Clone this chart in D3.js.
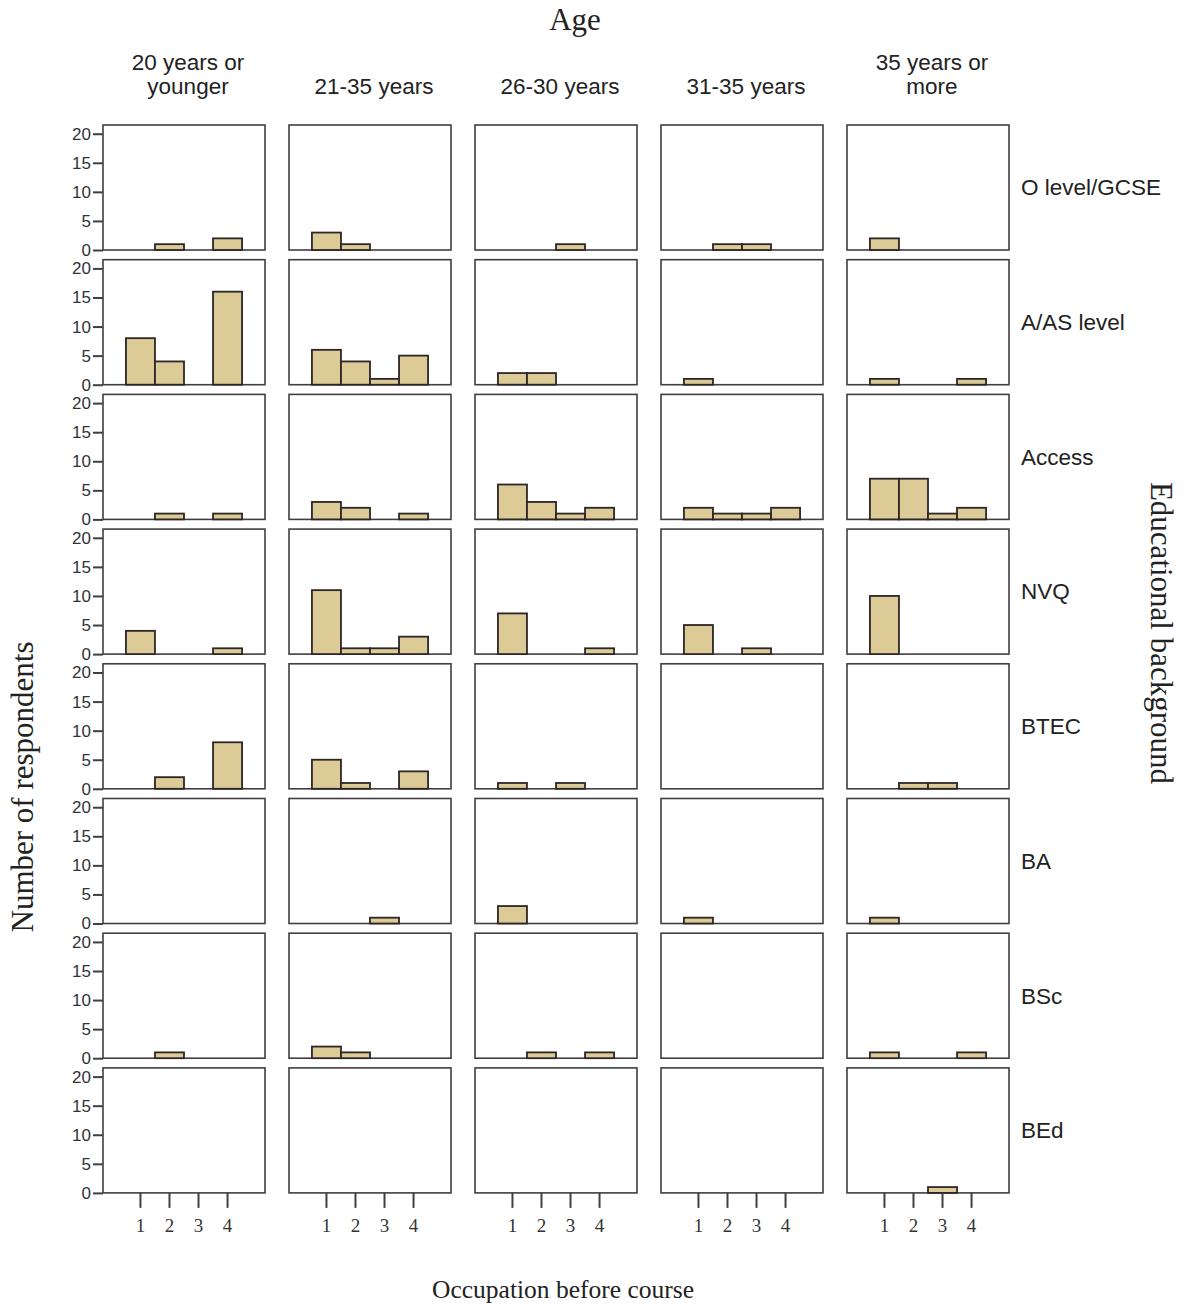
<!DOCTYPE html>
<html>
<head>
<meta charset="utf-8">
<script src="https://cdn.jsdelivr.net/npm/d3@7"></script>
<style>
  body { margin: 0; background: #fff; }
  svg { display: block; }
</style>
</head>
<body>
<svg></svg>
<script>

// categories
const ageGroups = [
    ["20 years or", "younger"],
    ["21-35 years"],
    ["26-30 years"],
    ["31-35 years"],
    ["35 years or", "more"]
]
const occupations = [1, 2, 3, 4]
const yTicks = [0, 5, 10, 15, 20]

// counts per education row, one [occ1..occ4] per age group
const oLevel  = [[0, 1, 0, 2], [3, 1, 0, 0], [0, 0, 1, 0], [0, 1, 1, 0], [2, 0, 0, 0]]
const aLevel  = [[8, 4, 0, 16], [6, 4, 1, 5], [2, 2, 0, 0], [1, 0, 0, 0], [1, 0, 0, 1]]
const access  = [[0, 1, 0, 1], [3, 2, 0, 1], [6, 3, 1, 2], [2, 1, 1, 2], [7, 7, 1, 2]]
const nvq     = [[4, 0, 0, 1], [11, 1, 1, 3], [7, 0, 0, 1], [5, 0, 1, 0], [10, 0, 0, 0]]
const btec    = [[0, 2, 0, 8], [5, 1, 0, 3], [1, 0, 1, 0], [0, 0, 0, 0], [0, 1, 1, 0]]
const ba      = [[0, 0, 0, 0], [0, 0, 1, 0], [3, 0, 0, 0], [1, 0, 0, 0], [1, 0, 0, 0]]
const bsc     = [[0, 1, 0, 0], [2, 1, 0, 0], [0, 1, 0, 1], [0, 0, 0, 0], [1, 0, 0, 1]]
const bed     = [[0, 0, 0, 0], [0, 0, 0, 0], [0, 0, 0, 0], [0, 0, 0, 0], [0, 0, 1, 0]]

const educationRows = [
    { label: "O level/GCSE", counts: oLevel },
    { label: "A/AS level", counts: aLevel },
    { label: "Access", counts: access },
    { label: "NVQ", counts: nvq },
    { label: "BTEC", counts: btec },
    { label: "BA", counts: ba },
    { label: "BSc", counts: bsc },
    { label: "BEd", counts: bed }
]

const sans = "Liberation Sans, Arial, sans-serif"
const serif = "Liberation Serif, Times New Roman, serif"
const frameColor = "#433c42"
const barFill = "#dccb96"

const panelLeft = 103
const panelTop = 125
const panelW = 162
const panelH = 125
const colStep = 186
const rowStep = 134.7

const svg = d3.select("svg")
    .attr("width", 1190)
    .attr("height", 1304)

const x = d3.scaleBand()
    .domain(occupations)
    .range([0, panelW])
    .paddingInner(0)
    .paddingOuter(0.79)

const y = d3.scaleLinear()
    .domain([0, 21.5])
    .range([panelH, 0])

// panels
educationRows.forEach(function (row, r) {
    ageGroups.forEach(function (age, c) {
        const g = svg.append("g")
            .attr("transform", `translate(${panelLeft + c * colStep}, ${panelTop + r * rowStep})`)

        g.append("rect")
            .attr("width", panelW)
            .attr("height", panelH)
            .attr("fill", "#fff")
            .attr("stroke", frameColor)
            .attr("stroke-width", 1.6)

        const values = row.counts[c].map((v, i) => ({ occ: occupations[i], v: v }))

        g.selectAll("rect.bar")
            .data(values.filter(d => d.v > 0))
            .enter()
            .append("rect")
            .attr("class", "bar")
            .attr("x", d => x(d.occ))
            .attr("width", x.bandwidth())
            .attr("y", d => y(d.v))
            .attr("height", d => y(0) - y(d.v))
            .attr("fill", barFill)
            .attr("stroke", "#2e2626")
            .attr("stroke-width", 1.8)

        // y axis on first column only
        if (c === 0) {
            const yAxis = g.append("g")
                .call(d3.axisLeft(y).tickValues(yTicks).tickSize(10).tickPadding(2))
            yAxis.select(".domain").remove()
            yAxis.selectAll("line").attr("stroke", frameColor).attr("stroke-width", 2)
            yAxis.selectAll("text")
                .attr("font-family", sans)
                .attr("font-size", 17)
                .attr("fill", "#333")
        }

        // x axis on last row only
        if (r === educationRows.length - 1) {
            const xAxis = g.append("g")
                .attr("transform", `translate(0, ${panelH})`)
                .call(d3.axisBottom(x).tickSize(15).tickPadding(11))
            xAxis.select(".domain").remove()
            xAxis.selectAll("line").attr("stroke", frameColor).attr("stroke-width", 2)
            xAxis.selectAll("text")
                .attr("font-family", serif)
                .attr("font-size", 19)
                .attr("fill", "#333")
        }
    })

    // row label
    svg.append("text")
        .attr("x", 1021)
        .attr("y", panelTop + r * rowStep + panelH / 2)
        .attr("dy", "0.35em")
        .attr("font-family", sans)
        .attr("font-size", 22.5)
        .attr("fill", "#222")
        .text(row.label)
})

// column headers
ageGroups.forEach(function (lines, c) {
    const cx = panelLeft + c * colStep + panelW / 2 + 4
    const t = svg.append("text")
        .attr("text-anchor", "middle")
        .attr("font-family", sans)
        .attr("font-size", 22.5)
        .attr("fill", "#222")
    const startY = lines.length === 2 ? 70 : 94
    lines.forEach(function (line, i) {
        t.append("tspan")
            .attr("x", cx)
            .attr("y", startY + i * 24)
            .text(line)
    })
})

// titles
svg.append("text")
    .attr("x", 575)
    .attr("y", 30)
    .attr("text-anchor", "middle")
    .attr("font-family", serif)
    .attr("font-size", 31)
    .attr("fill", "#222")
    .text("Age")

svg.append("text")
    .attr("x", 563)
    .attr("y", 1298)
    .attr("text-anchor", "middle")
    .attr("font-family", serif)
    .attr("font-size", 25.5)
    .attr("fill", "#222")
    .text("Occupation before course")

svg.append("text")
    .attr("transform", "translate(33, 787) rotate(-90)")
    .attr("text-anchor", "middle")
    .attr("font-family", serif)
    .attr("font-size", 31)
    .attr("fill", "#222")
    .text("Number of respondents")

svg.append("text")
    .attr("transform", "translate(1151, 633) rotate(90)")
    .attr("text-anchor", "middle")
    .attr("font-family", serif)
    .attr("font-size", 31)
    .attr("fill", "#222")
    .text("Educational background")

</script>
</body>
</html>
